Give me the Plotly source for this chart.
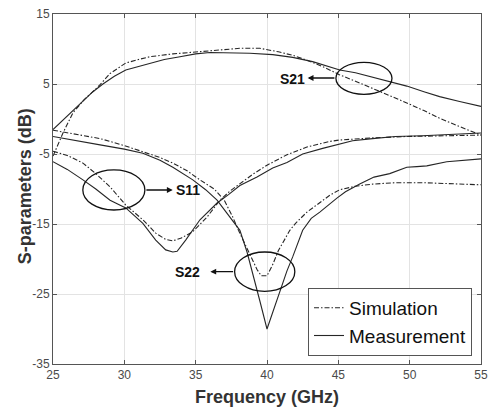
import plotly.graph_objects as go

# ---- data ----
s21_sim_f = [25, 25.7, 26.4, 27.2, 28.0, 28.3, 29.0, 30.1, 31.0, 31.8, 33.4, 35.1, 36.8, 38.1, 39.5, 40.8, 41.8, 42.8, 44.0, 45.1, 46.2, 47.4, 48.6, 49.8, 51.0, 52.1, 53.4, 54.7, 55]
s21_sim_v = [-5.3, -2.0, 0.9, 2.8, 4.3, 4.9, 6.5, 8.0, 8.5, 8.9, 9.3, 9.6, 9.9, 10.1, 10.1, 9.6, 9.1, 8.4, 7.4, 6.3, 5.4, 4.4, 3.3, 2.3, 1.2, 0.1, -1.0, -2.0, -2.3]

s21_meas_f = [25, 26.4, 27.8, 28.5, 29.3, 30.1, 31.0, 31.8, 32.8, 33.9, 35.0, 36.0, 37.0, 38.1, 38.8, 40.4, 41.8, 43.2, 44.2, 45.1, 46.2, 47.4, 48.6, 49.8, 51.0, 52.1, 53.5, 55]
s21_meas_v = [-1.5, 1.2, 3.9, 5.0, 6.1, 7.0, 7.5, 8.0, 8.5, 8.9, 9.3, 9.5, 9.5, 9.5, 9.4, 9.2, 8.8, 8.2, 7.6, 7.0, 6.6, 6.0, 5.4, 4.7, 3.9, 3.2, 2.5, 1.8]

s11_sim_f = [25, 26.0, 27.1, 28.0, 29.0, 30.1, 31.3, 32.2, 32.9, 33.4, 34.0, 34.8, 35.8, 36.7, 37.4, 38.1, 39.0, 40.0, 41.4, 42.8, 44.4, 45.1, 47.4, 49.8, 52.0, 55]
s11_sim_v = [-4.6, -5.2, -6.3, -7.8, -9.7, -12.3, -14.4, -16.3, -17.2, -17.4, -17.0, -16.1, -14.0, -11.6, -10.3, -9.2, -7.9, -6.6, -5.1, -4.0, -3.2, -3.0, -2.7, -2.5, -2.4, -2.3]

s11_meas_f = [25, 26.0, 27.1, 28.0, 29.0, 30.1, 31.3, 32.2, 32.9, 33.4, 33.7, 34.3, 35.3, 36.5, 37.3, 38.1, 39.3, 40.4, 41.4, 42.5, 43.9, 45.0, 46.0, 47.4, 49.0, 50.9, 53.0, 55]
s11_meas_v = [-6.1, -7.2, -8.7, -10.0, -11.6, -12.7, -14.9, -17.3, -18.7, -19.0, -18.9, -17.3, -14.4, -12.0, -10.8, -9.5, -8.3, -7.0, -6.2, -5.0, -4.2, -3.6, -3.1, -2.8, -2.5, -2.4, -2.2, -2.0]

s22_sim_f = [25, 26.5, 28.3, 30.0, 31.3, 32.5, 33.4, 34.4, 35.3, 36.3, 37.0, 37.6, 38.0, 38.4, 38.8, 39.3, 39.6, 40.0, 40.4, 40.8, 41.6, 42.0, 42.8, 43.7, 44.4, 45.1, 46.2, 47.4, 49.0, 50.9, 53.0, 55]
s22_sim_v = [-1.6, -2.1, -2.8, -3.8, -4.7, -5.5, -6.3, -7.4, -8.7, -10.0, -11.6, -14.0, -15.9, -17.6, -19.2, -21.5, -22.4, -22.4, -20.8, -18.8, -15.9, -14.9, -13.3, -12.0, -10.9, -10.1, -9.6, -9.3, -9.1, -9.1, -9.2, -9.4]

s22_meas_f = [25, 26.5, 28.3, 30.0, 31.3, 32.5, 33.4, 34.8, 35.7, 36.5, 37.4, 38.1, 38.6, 39.0, 39.5, 40.0, 40.5, 40.9, 41.4, 41.8, 42.5, 43.1, 43.7, 44.9, 45.5, 46.5, 47.5, 48.6, 49.8, 50.5, 51.2, 52.6, 54.0, 55]
s22_meas_v = [-2.5, -3.0, -3.7, -4.3, -4.9, -5.9, -6.9, -8.7, -10.1, -11.6, -14.0, -15.9, -19.0, -22.0, -26.0, -30.0, -27.0, -24.4, -21.7, -19.7, -15.9, -14.2, -13.3, -11.3, -10.4, -9.3, -8.3, -7.8, -6.9, -6.8, -6.7, -6.1, -5.9, -5.7]

x_ticks = [25, 30, 35, 40, 45, 50, 55]
y_ticks = [-35, -25, -15, -5, 5, 15]

LINE = "#262626"
SIM_DASH = "5px,2px,1.5px,2px"

fig = go.Figure()

sim_series = [(s21_sim_f, s21_sim_v), (s11_sim_f, s11_sim_v), (s22_sim_f, s22_sim_v)]
meas_series = [(s21_meas_f, s21_meas_v), (s11_meas_f, s11_meas_v), (s22_meas_f, s22_meas_v)]

for i, (f, v) in enumerate(sim_series):
    fig.add_trace(go.Scatter(x=f, y=v, mode="lines", name="Simulation",
                             legendgroup="sim", showlegend=(i == 0),
                             line=dict(color=LINE, width=1.1, dash=SIM_DASH)))
for i, (f, v) in enumerate(meas_series):
    fig.add_trace(go.Scatter(x=f, y=v, mode="lines", name="Measurement",
                             legendgroup="meas", showlegend=(i == 0),
                             line=dict(color=LINE, width=1.1)))

# ellipses
ellipses = [
    (44.83, 48.76, 3.52, 8.10),
    (27.09, 31.44, -13.0, -7.28),
    (37.73, 41.95, -24.62, -19.0),
]
for x0, x1, y0, y1 in ellipses:
    fig.add_shape(type="circle", xref="x", yref="y", x0=x0, x1=x1, y0=y0, y1=y1,
                  line=dict(color="#111111", width=1.3))

# arrows (head, tail)
arrows = [
    ((42.85, 5.86), (44.83, 5.86)),
    ((33.39, -10.14), (31.44, -10.14)),
    ((36.03, -21.81), (37.73, -21.81)),
]
for (hx, hy), (tx, ty) in arrows:
    fig.add_annotation(x=hx, y=hy, ax=tx, ay=ty, xref="x", yref="y", axref="x", ayref="y",
                       text="", showarrow=True, arrowhead=2, arrowsize=0.9,
                       arrowwidth=1.3, arrowcolor="#111111")

labels = [("S21", 41.8, 5.75), ("S11", 34.45, -10.1), ("S22", 34.4, -21.8)]
for t, x, y in labels:
    fig.add_annotation(x=x, y=y, xref="x", yref="y", text="<b>" + t + "</b>", showarrow=False,
                       font=dict(family="Liberation Sans Narrow, Arial Narrow, Liberation Sans, Arial",
                                 size=14, color="#111111"))

# y-axis title (placed as paper annotation to sit close to the tick labels)
fig.add_annotation(x=-0.066, y=0.507, xref="paper", yref="paper", xanchor="center", yanchor="middle",
                   text="<b>S-parameters (dB)</b>", textangle=-90, showarrow=False,
                   font=dict(family="Liberation Sans, Arial", size=18, color="#333333"))

axis_common = dict(showline=True, linecolor="#555555", linewidth=1, mirror="ticks",
                   ticks="inside", ticklen=4, tickcolor="#555555", tickwidth=1,
                   showgrid=True, gridcolor="#e3e3e3", gridwidth=1, zeroline=False,
                   tickfont=dict(family="Liberation Sans, Arial", size=12, color="#4a4a4a"))

fig.update_xaxes(range=[25, 55], tickvals=x_ticks, ticktext=[str(t) for t in x_ticks],
                 title=dict(text="<b>Frequency (GHz)</b>", standoff=8,
                            font=dict(family="Liberation Sans, Arial", size=18, color="#333333")),
                 **axis_common)
fig.update_yaxes(range=[-35, 15], tickvals=y_ticks, ticktext=[str(t) for t in y_ticks],
                 **axis_common)

fig.update_layout(
    width=489, height=410,
    margin=dict(l=53, r=8, t=14, b=46, autoexpand=False),
    paper_bgcolor="white", plot_bgcolor="white",
    showlegend=True,
    legend=dict(x=0.979, y=0.023, xanchor="right", yanchor="bottom",
                bgcolor="white", bordercolor="#555555", borderwidth=1,
                font=dict(family="Liberation Sans, Arial", size=19, color="#111111"),
                tracegroupgap=0, itemwidth=30),
)

fig.write_html("out.html", config={"displayModeBar": False},
               post_script="document.body.style.margin='0';document.body.style.overflow='hidden';")
